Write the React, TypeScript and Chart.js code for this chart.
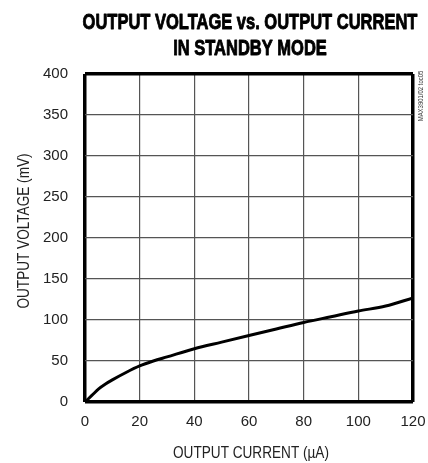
import React, { useEffect, useRef } from "react";
import { Chart, registerables } from "chart.js";

Chart.register(...registerables);

const titleLines = ["OUTPUT VOLTAGE vs. OUTPUT CURRENT", "IN STANDBY MODE"];
const xAxisTitle = "OUTPUT CURRENT (\u00B5A)";
const yAxisTitle = "OUTPUT VOLTAGE (mV)";
const noteText = "MAX3901/02 toc05";

const currentUA = [0, 2.5, 5, 7.5, 10, 15, 20, 25, 30, 40, 50, 60, 70, 80, 90, 100, 110, 120];
const voltageMV = [0, 8, 16, 22, 27, 36, 44, 50, 55, 65, 73, 81, 89, 97, 104, 111, 117, 127];

const xMin = 0;
const xMax = 120;
const xStep = 20;
const yMin = 0;
const yMax = 400;
const yStep = 50;

const FONT = "'Liberation Sans', Arial, sans-serif";

// draw text horizontally condensed (narrow typeface look)
function narrowText(ctx: any, text: string, x: number, y: number, sx: number, stroke = 0) {
  ctx.save();
  ctx.translate(x, y);
  ctx.scale(sx, 1);
  ctx.fillText(text, 0, 0);
  if (stroke > 0) {
    ctx.lineWidth = stroke;
    ctx.strokeStyle = ctx.fillStyle;
    ctx.lineJoin = "round";
    ctx.strokeText(text, 0, 0);
  }
  ctx.restore();
}

const textPlugin = {
  id: "textPlugin",
  afterDraw(chart: any) {
    const ctx = chart.ctx;
    const area = chart.chartArea;
    const cx = (area.left + area.right) / 2;
    ctx.save();
    ctx.fillStyle = "#000";
    ctx.textAlign = "center";
    ctx.textBaseline = "alphabetic";
    // title
    ctx.font = `bold 22px ${FONT}`;
    const baselines = [29, 55];
    titleLines.forEach((line, i) => narrowText(ctx, line, cx + 1, baselines[i], 0.75, 0.9));
    // x axis title
    ctx.font = `17px ${FONT}`;
    ctx.fillStyle = "#222";
    narrowText(ctx, xAxisTitle, cx + 2, 458, 0.8);
    // y axis title
    ctx.save();
    ctx.translate(29, 231);
    ctx.rotate(-Math.PI / 2);
    narrowText(ctx, yAxisTitle, 0, 0, 0.8);
    ctx.restore();
    // note
    ctx.save();
    ctx.translate(423, 96);
    ctx.rotate(-Math.PI / 2);
    ctx.font = `7px ${FONT}`;
    ctx.fillStyle = "#333";
    narrowText(ctx, noteText, 0, 0, 0.85);
    ctx.restore();
    ctx.restore();
  },
};

export default function App() {
  const ref = useRef<HTMLCanvasElement>(null);
  useEffect(() => {
    if (!ref.current) return;
    const edgeWidth = (v: number, lo: number, hi: number) => (v === lo || v === hi ? 3.5 : 1.2);
    const edgeColor = (v: number, lo: number, hi: number) => (v === lo || v === hi ? "#000" : "#555");
    const chart = new Chart(ref.current, {
      type: "line",
      data: {
        datasets: [
          {
            data: currentUA.map((x, i) => ({ x, y: voltageMV[i] })),
            borderColor: "#000",
            borderWidth: 3,
            pointRadius: 0,
            cubicInterpolationMode: "monotone",
            fill: false,
          },
        ],
      },
      options: {
        responsive: false,
        animation: false,
        layout: { padding: { top: 74, right: 15, left: 0, bottom: 0 } },
        plugins: { legend: { display: false }, tooltip: { enabled: false }, title: { display: false } },
        scales: {
          x: {
            type: "linear",
            min: xMin,
            max: xMax,
            afterFit: (s: any) => {
              s.height = 61;
              s.paddingLeft = 0;
              s.paddingRight = 0;
            },
            ticks: {
              stepSize: xStep,
              padding: 11,
              color: "#222",
              font: { family: FONT, size: 15 },
            },
            grid: {
              drawTicks: false,
              lineWidth: (c: any) => edgeWidth(c.tick?.value, xMin, xMax),
              color: (c: any) => edgeColor(c.tick?.value, xMin, xMax),
            },
            border: { display: false },
          },
          y: {
            type: "linear",
            min: yMin,
            max: yMax,
            afterFit: (s: any) => {
              s.width = 85;
              s.paddingTop = 0;
              s.paddingBottom = 0;
            },
            ticks: {
              stepSize: yStep,
              padding: 17,
              color: "#222",
              font: { family: FONT, size: 15 },
            },
            grid: {
              drawTicks: false,
              lineWidth: (c: any) => edgeWidth(c.tick?.value, yMin, yMax),
              color: (c: any) => edgeColor(c.tick?.value, yMin, yMax),
            },
            border: { display: false },
          },
        },
      },
      plugins: [textPlugin],
    } as any);
    return () => chart.destroy();
  }, []);
  return (
    <div style={{ position: "absolute", left: 0, top: 0, width: 428, height: 463, background: "#fff" }}>
      <canvas ref={ref} width={428} height={463} style={{ display: "block" }} />
    </div>
  );
}
